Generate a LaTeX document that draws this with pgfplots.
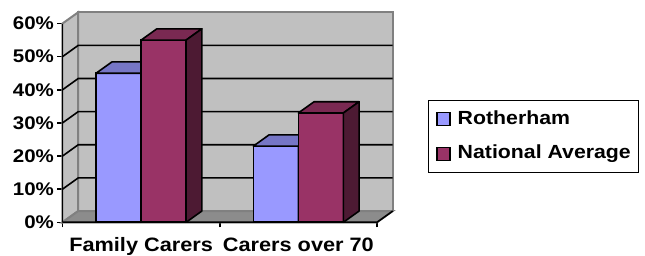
\documentclass[border=0pt]{standalone}
\usepackage{fontspec}
\setmainfont{Liberation Sans}[FakeStretch=1.12]
\usepackage{pgfplots}
\pgfplotsset{compat=1.18}
\usepackage{pgfplotstable}

\definecolor{wall}{HTML}{C0C0C0}
\definecolor{wallborder}{HTML}{808080}
\definecolor{floorc}{HTML}{8C8C8C}
\definecolor{rothF}{HTML}{9999FF}
\definecolor{rothT}{HTML}{7676C6}
\definecolor{rothS}{HTML}{4D4D80}
\definecolor{natF}{HTML}{993366}
\definecolor{natT}{HTML}{7A2952}
\definecolor{natS}{HTML}{4D1A33}

\pgfplotstableread{
x val
0.5 45
1.5 23
}\rotherham
\pgfplotstableread{
x val
0.5 55
1.5 33
}\national

\pgfdeclareplotmark{emptymark}{}

\def\yu{3.313}
\def\ddx{15.725}
\def\ddy{11.264}
\def\hb{22.5}

\pgfplotsset{
  faces/.style n args={3}{
    scatter, only marks, mark=emptymark, forget plot,
    visualization depends on={\thisrow{val} \as \val},
    scatter/@pre marker code/.code={%
      \pgfmathsetmacro\hh{\val*\yu}%
      \filldraw[fill=#2, draw=black, line width=1.6pt, line join=round]
        ({#1pt-\hb pt},0pt) -- ({#1pt+\hb pt},0pt) -- ++(\ddx pt,\ddy pt) -- ++(-45pt,0pt) -- cycle;
      \filldraw[fill=#3, draw=black, line width=1.6pt, line join=round]
        ({#1pt+\hb pt},0pt) -- ++(\ddx pt,\ddy pt) -- ++(0pt,-\hh pt) -- ++(-\ddx pt,-\ddy pt) -- cycle;
    },
    scatter/@post marker code/.code={},
  },
  legsq/.style={legend image code/.code={\path (0pt,0pt) (20pt,0pt); \draw[##1, line width=1.2pt] (3.5pt,-6.5pt) rectangle (16.5pt,6.5pt);}},
}

\begin{document}
\begin{tikzpicture}
\useasboundingbox (0,0) rectangle (645pt,256pt);
\begin{axis}[
  at={(62.5pt,33.7pt)}, anchor=south west,
  scale only axis, width=330.225pt, height=210.04pt,
  xmin=0, xmax=2.1, ymin=0, ymax=63.4,
  clip=false, clip marker paths=true,
  axis line style={draw=none},
  tick pos=left,
  tick align=outside,
  major tick length=5pt,
  every tick/.style={black, line width=1.5pt},
  ytick={0,10,...,60},
  yticklabels={0\%,10\%,20\%,30\%,40\%,50\%,60\%},
  yticklabel style={font=\fontsize{18.3}{20}\selectfont\bfseries},
  xtick={0,1,2}, xticklabel=\empty,
  extra x ticks={0.5,1.5},
  extra x tick labels={Family Carers, Carers over 70},
  extra x tick style={major tick length=0pt, tick style={draw=none},
    xticklabel style={font=\fontsize{19.4}{21}\selectfont\bfseries, yshift=-12pt}},
  legend cell align=left,
  legend style={at={(1.1068,0.5823)}, anchor=north west, draw=black, line width=1.3pt,
    font=\fontsize{19}{22}\selectfont\bfseries, inner xsep=4pt, inner ysep=7pt, row sep=11pt,
    nodes={inner xsep=3.5pt, inner ysep=2.5pt, text height=14pt, text depth=4.5pt}},
]
% walls and floor
\addplot[forget plot, fill=wall, draw=wallborder, line width=2pt] coordinates {(0.1,3.4) (2.1,3.4) (2.1,63.4) (0.1,63.4)} -- cycle;
\addplot[forget plot, fill=wall, draw=wallborder, line width=2pt] coordinates {(0,0) (0.1,3.4) (0.1,63.4) (0,60)} -- cycle;
\addplot[forget plot, fill=floorc, draw=wallborder, line width=2pt] coordinates {(0,0) (2,0) (2.1,3.4) (0.1,3.4)} -- cycle;
\addplot[forget plot, black, line width=1.6pt] coordinates {(0,0) (2,0) (2.1,3.4)};
% gridlines
\addplot[forget plot, black, line width=1.6pt] coordinates {(0,10) (0.1,13.4) (2.1,13.4)};
\addplot[forget plot, black, line width=1.6pt] coordinates {(0,20) (0.1,23.4) (2.1,23.4)};
\addplot[forget plot, black, line width=1.6pt] coordinates {(0,30) (0.1,33.4) (2.1,33.4)};
\addplot[forget plot, black, line width=1.6pt] coordinates {(0,40) (0.1,43.4) (2.1,43.4)};
\addplot[forget plot, black, line width=1.6pt] coordinates {(0,50) (0.1,53.4) (2.1,53.4)};
\addplot[forget plot, black, line width=1.6pt] coordinates {(0,0) (0,60)};
% bars
\addplot[ybar, bar width=45pt, bar shift=-22.5pt, fill=rothF, draw=black, line width=1.6pt, legsq] table[x=x, y=val] {\rotherham};
\addlegendentry{Rotherham}
\addplot[faces={-22.5}{rothT}{rothS}] table[x=x, y=val] {\rotherham};
\addplot[ybar, bar width=45pt, bar shift=22.5pt, fill=natF, draw=black, line width=1.6pt, legsq] table[x=x, y=val] {\national};
\addlegendentry{National Average}
\addplot[faces={22.5}{natT}{natS}] table[x=x, y=val] {\national};
\end{axis}
\end{tikzpicture}
\end{document}
